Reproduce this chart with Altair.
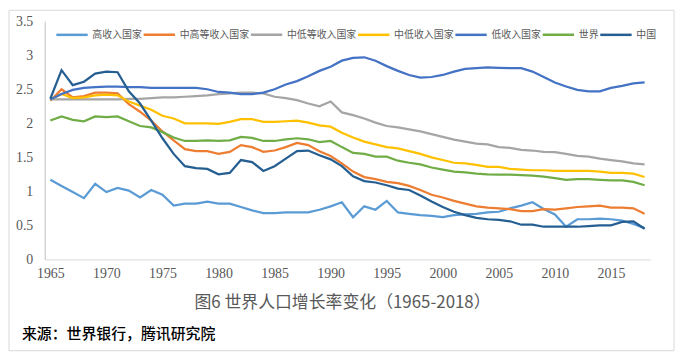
import altair as alt
import pandas as pd

years = list(range(1965, 2019))

series_names = ["高收入国家", "中高等收入国家", "中低等收入国家", "中低收入国家", "低收入国家", "世界", "中国"]
series_colors = ["#5b9bd5", "#ed7d31", "#a5a5a5", "#ffc000", "#4472c4", "#70ad47", "#255e91"]

high_income = [1.17, 1.08, 0.99, 0.90, 1.11, 0.99, 1.05, 1.01, 0.91, 1.02,
               0.95, 0.79, 0.82, 0.82, 0.85, 0.82, 0.82, 0.77, 0.72, 0.68,
               0.68, 0.69, 0.69, 0.69, 0.73, 0.78, 0.84, 0.62, 0.78, 0.73,
               0.86, 0.69, 0.67, 0.65, 0.64, 0.62, 0.65, 0.66, 0.67, 0.69,
               0.70, 0.75, 0.79, 0.84, 0.74, 0.66, 0.48, 0.59, 0.59, 0.60,
               0.59, 0.57, 0.52, 0.46]
upper_middle = [2.33, 2.50, 2.38, 2.40, 2.45, 2.45, 2.44, 2.28, 2.17, 2.04,
                1.88, 1.75, 1.62, 1.59, 1.59, 1.55, 1.58, 1.68, 1.65, 1.58,
                1.60, 1.65, 1.71, 1.68, 1.59, 1.52, 1.41, 1.29, 1.21, 1.18,
                1.14, 1.12, 1.08, 1.02, 0.95, 0.91, 0.86, 0.82, 0.78, 0.76,
                0.75, 0.74, 0.71, 0.71, 0.74, 0.73, 0.75, 0.77, 0.78, 0.79,
                0.76, 0.76, 0.75, 0.67]
lower_middle = [2.35, 2.35, 2.35, 2.35, 2.35, 2.35, 2.35, 2.36, 2.36, 2.37,
                2.38, 2.38, 2.39, 2.40, 2.41, 2.43, 2.44, 2.45, 2.45, 2.44,
                2.39, 2.37, 2.34, 2.29, 2.25, 2.32, 2.16, 2.12, 2.07, 2.01,
                1.96, 1.94, 1.91, 1.88, 1.84, 1.80, 1.76, 1.73, 1.70, 1.69,
                1.65, 1.64, 1.61, 1.60, 1.58, 1.575, 1.55, 1.52, 1.51, 1.48,
                1.46, 1.44, 1.41, 1.395]
low_and_middle = [2.35, 2.43, 2.37, 2.38, 2.41, 2.42, 2.41, 2.32, 2.26, 2.20,
                  2.11, 2.07, 2.00, 2.00, 2.00, 1.99, 2.02, 2.06, 2.06, 2.02,
                  2.02, 2.03, 2.04, 2.01, 1.97, 1.95, 1.86, 1.79, 1.73, 1.69,
                  1.65, 1.63, 1.59, 1.55, 1.50, 1.46, 1.42, 1.41, 1.39, 1.36,
                  1.36, 1.33, 1.32, 1.31, 1.31, 1.30, 1.30, 1.30, 1.30, 1.29,
                  1.27, 1.27, 1.26, 1.21]
low_income = [2.35, 2.43, 2.49, 2.52, 2.53, 2.54, 2.54, 2.53, 2.53, 2.52,
              2.52, 2.52, 2.52, 2.52, 2.50, 2.46, 2.45, 2.43, 2.43, 2.45,
              2.50, 2.57, 2.62, 2.69, 2.77, 2.83, 2.92, 2.96, 2.97, 2.92,
              2.84, 2.77, 2.71, 2.67, 2.68, 2.71, 2.76, 2.80, 2.81, 2.82,
              2.815, 2.81, 2.81, 2.76, 2.68, 2.60, 2.54, 2.49, 2.47, 2.47,
              2.52, 2.55, 2.585, 2.60]
world = [2.04, 2.10, 2.05, 2.03, 2.10, 2.09, 2.10, 2.03, 1.96, 1.94,
         1.87, 1.79, 1.74, 1.74, 1.75, 1.74, 1.75, 1.80, 1.785, 1.74,
         1.74, 1.765, 1.78, 1.765, 1.725, 1.74, 1.65, 1.565, 1.55, 1.51,
         1.51, 1.45, 1.42, 1.395, 1.35, 1.32, 1.29, 1.28, 1.26, 1.25,
         1.245, 1.245, 1.24, 1.23, 1.215, 1.195, 1.17, 1.18, 1.18, 1.17,
         1.16, 1.16, 1.14, 1.09]
china = [2.36, 2.78, 2.56, 2.61, 2.73, 2.76, 2.75, 2.47, 2.29, 2.04,
         1.78, 1.55, 1.37, 1.34, 1.33, 1.25, 1.27, 1.46, 1.43, 1.30,
         1.37, 1.48, 1.59, 1.60, 1.53, 1.47, 1.37, 1.22, 1.15, 1.13,
         1.09, 1.04, 1.02, 0.94, 0.85, 0.77, 0.70, 0.65, 0.61, 0.59,
         0.58, 0.56, 0.51, 0.51, 0.48, 0.48, 0.48, 0.48, 0.49, 0.50,
         0.50, 0.55, 0.56, 0.45]

x_tick_values = list(range(1965, 2016, 5))
y_tick_values = [0, 0.5, 1, 1.5, 2, 2.5, 3, 3.5]

title_text = "图6  世界人口增长率变化（1965-2018）"
source_text = "来源：世界银行，腾讯研究院"

all_series = [high_income, upper_middle, lower_middle, low_and_middle, low_income, world, china]
rows = []
for name, vals in zip(series_names, all_series):
    for yr, v in zip(years, vals):
        rows.append({"year": yr, "series": name, "value": v})
df = pd.DataFrame(rows)

W, H = 610, 240

lines = alt.Chart(df).mark_line(strokeWidth=2.25, clip=False).encode(
    x=alt.X("year:Q",
            scale=alt.Scale(domain=[1964.5, 2018.5], nice=False, zero=False),
            axis=alt.Axis(values=x_tick_values, format="d", title=None, ticks=False,
                          grid=False, domainColor="#d9d9d9", domainWidth=1,
                          labelFont="Liberation Serif", labelFontSize=14,
                          labelColor="#595959", labelPadding=7,
                          labelFlush=False, labelOverlap=False)),
    y=alt.Y("value:Q",
            scale=alt.Scale(domain=[0, 3.5], nice=False),
            axis=alt.Axis(values=y_tick_values, format="~g", title=None, ticks=False,
                          grid=False, domainColor="#bfbfbf", domainWidth=1,
                          labelFont="Liberation Serif", labelFontSize=14,
                          labelColor="#595959", labelPadding=12)),
    color=alt.Color("series:N",
                    scale=alt.Scale(domain=series_names, range=series_colors),
                    sort=series_names,
                    legend=alt.Legend(title=None, orient="none", legendX=10, legendY=-4,
                                      direction="horizontal", columns=7,
                                      symbolType="stroke", symbolSize=1000,
                                      symbolStrokeWidth=2.5,
                                      labelFont="Noto Sans CJK SC", labelFontSize=10,
                                      labelColor="#595959", labelOffset=3,
                                      columnPadding=-6)),
)

frame = alt.Chart(pd.DataFrame({"k": [0]})).mark_rect(
    fill=None, stroke="#d9d9d9", strokeWidth=1, clip=False
).encode(x=alt.value(-36), x2=alt.value(634), y=alt.value(-11), y2=alt.value(332))

title_mark = alt.Chart(pd.DataFrame({"t": [title_text]})).mark_text(
    font="Noto Sans CJK SC", fontSize=17, color="#595959", align="center",
    baseline="middle", clip=False
).encode(text="t:N", x=alt.value(300), y=alt.value(284))

source_mark = alt.Chart(pd.DataFrame({"t": [source_text]})).mark_text(
    font="Noto Sans CJK SC", fontSize=15, color="#000000", align="left",
    baseline="middle", fontWeight=500, clip=False
).encode(text="t:N", x=alt.value(-23), y=alt.value(315))

chart = alt.layer(frame, lines, title_mark, source_mark).properties(
    width=W, height=H,
    autosize=alt.AutoSizeParams(type="none"),
    padding={"left": 37, "top": 12, "right": 26, "bottom": 93},
    background="white",
).configure_view(stroke=None)

chart.save("out.html", embed_options={"renderer": "svg", "actions": False})
